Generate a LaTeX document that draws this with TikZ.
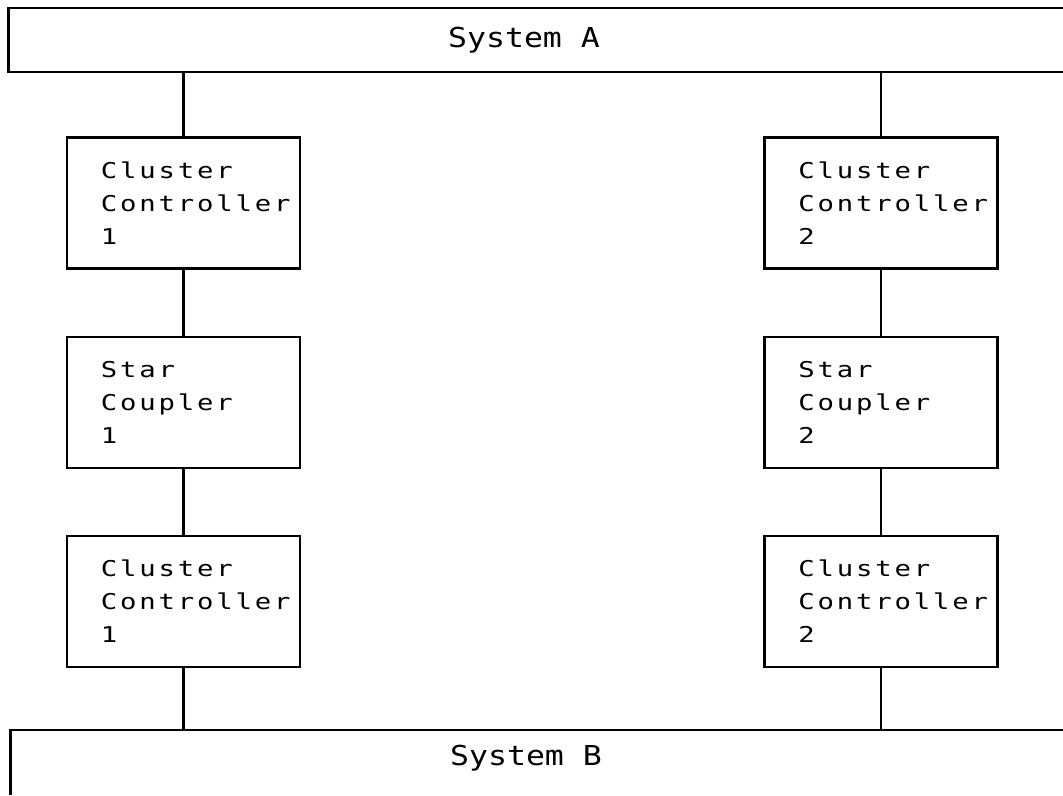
\documentclass[tikz,border=0pt]{standalone}
\usepackage{fontspec}
\newfontfamily\boxfont[FakeStretch=1.25,LetterSpace=13]{DejaVu Sans Mono}
\newfontfamily\sysfont[FakeStretch=1.15]{DejaVu Sans Mono}
\usetikzlibrary{positioning}
\tikzset{
  unit/.style={draw,line width=1.6pt,minimum width=5.825cm,minimum height=3.275cm,
    inner xsep=0.1cm,text width=5.625cm,align=left,
    execute at begin node={\leftskip=0.75cm},
    font=\boxfont\fontsize{15.5}{23.5}\selectfont},
  system/.style={minimum width=25.75cm,inner sep=0pt,
    font=\sysfont\fontsize{19.5}{24}\selectfont},
  link/.style={line width=1.6pt}
}

\begin{document}
\begin{tikzpicture}[x=0.025cm,y=-0.025cm,node distance=1.65cm]
  \useasboundingbox (0,0) rectangle (1063,795);
  \clip (0,0) rectangle (1063,795);
  \coordinate (lowright) at (1063,795);
  % the two systems
  \node[system,minimum height=1.6cm] (sysa) at (524,40) {System A};
  \node[system,minimum height=1.4cm] (sysb) at (526,758) {System B};
  \draw[link] (sysa.north west -| lowright) -- (sysa.north west) -- (sysa.south west) -- (sysa.south west -| lowright);
  \draw[link] (sysb.north west -| lowright) -- (sysb.north west) -- (sysb.north west |- lowright);
  % left path
  \node[unit] (cc1a) at (183.5,203) {Cluster\\Controller\\1};
  \node[unit,below=of cc1a] (sc1) {Star\\Coupler\\1};
  \node[unit,below=of sc1] (cc1b) {Cluster\\Controller\\1};
  % right path
  \node[unit] (cc2a) at (881,203) {Cluster\\Controller\\2};
  \node[unit,below=of cc2a] (sc2) {Star\\Coupler\\2};
  \node[unit,below=of sc2] (cc2b) {Cluster\\Controller\\2};
  % links
  \draw[link] (cc1a.north |- sysa.south) -- (cc1a.north);
  \draw[link] (cc1a.south) -- (sc1.north);
  \draw[link] (sc1.south) -- (cc1b.north);
  \draw[link] (cc1b.south) -- (cc1b.south |- sysb.north);
  \draw[link] (cc2a.north |- sysa.south) -- (cc2a.north);
  \draw[link] (cc2a.south) -- (sc2.north);
  \draw[link] (sc2.south) -- (cc2b.north);
  \draw[link] (cc2b.south) -- (cc2b.south |- sysb.north);
\end{tikzpicture}
\end{document}
